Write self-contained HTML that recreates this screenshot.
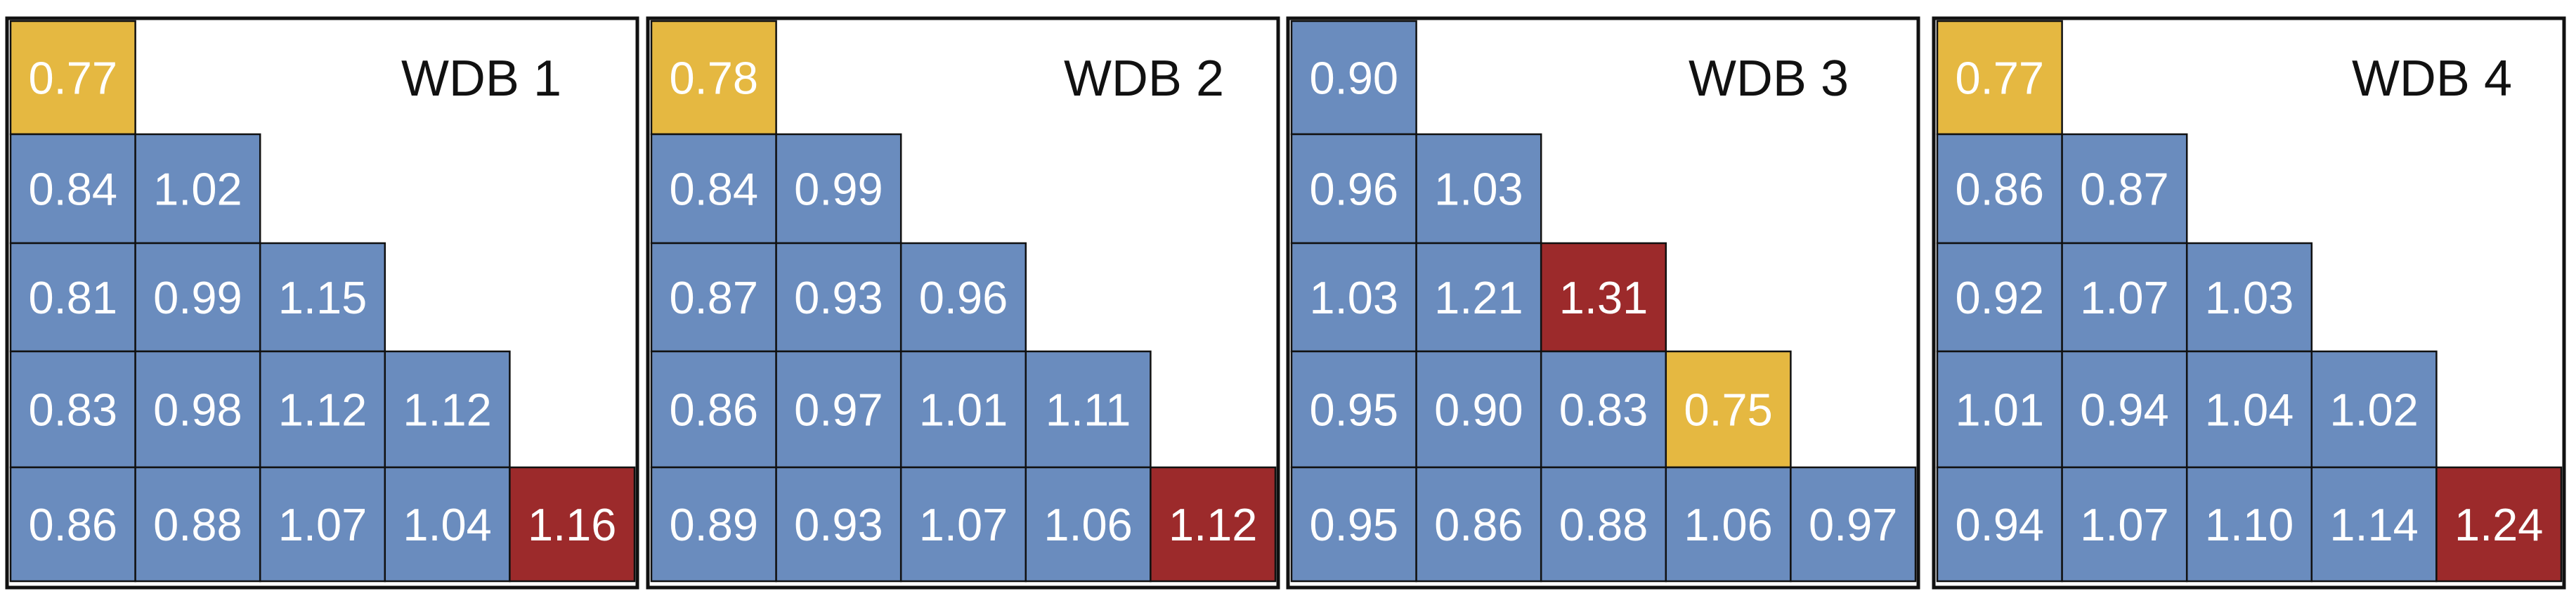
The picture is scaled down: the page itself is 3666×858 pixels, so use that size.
<!DOCTYPE html>
<html><head><meta charset="utf-8"><style>
html,body{margin:0;padding:0;background:#fff;}
svg{display:block;}
text{font-family:"Liberation Sans",sans-serif;}
</style></head><body>
<svg id="chart" width="3666" height="858" viewBox="0 0 3666 858" xmlns="http://www.w3.org/2000/svg"></svg>
<script>
const panelTitles = ["WDB 1", "WDB 2", "WDB 3", "WDB 4"];
const wdb1 = [[0.77],[0.84,1.02],[0.81,0.99,1.15],[0.83,0.98,1.12,1.12],[0.86,0.88,1.07,1.04,1.16]];
const wdb2 = [[0.78],[0.84,0.99],[0.87,0.93,0.96],[0.86,0.97,1.01,1.11],[0.89,0.93,1.07,1.06,1.12]];
const wdb3 = [[0.90],[0.96,1.03],[1.03,1.21,1.31],[0.95,0.90,0.83,0.75],[0.95,0.86,0.88,1.06,0.97]];
const wdb4 = [[0.77],[0.86,0.87],[0.92,1.07,1.03],[1.01,0.94,1.04,1.02],[0.94,1.07,1.10,1.14,1.24]];
const panels = [wdb1, wdb2, wdb3, wdb4];

const NS = "http://www.w3.org/2000/svg";
const svg = document.getElementById("chart");
const panelX = [10, 922, 1833, 2752];
const titleRight = [789, 820, 798, 823];
const rowEdges = [30, 191, 346, 500, 665, 827];
const cellW = 177.6;
function colX(p, c){ return panelX[p] + 5 + c * cellW; }
function rowY(r){ return rowEdges[r]; }
function mk(tag, attrs){ const e = document.createElementNS(NS, tag); for (const k in attrs) e.setAttribute(k, attrs[k]); return e; }

panels.forEach((data, p) => {
  const g = mk("g", {});
  
  
  svg.appendChild(g);
  const frame = mk("rect", {x: panelX[p], y: 26, width: 897, height: 810, fill: "#fff", stroke: "#111", "stroke-width": 5});
  
  
  g.appendChild(frame);
  const all = data.flat();
  const mn = Math.min(...all), mx = Math.max(...all);
  data.forEach((row, r) => {
    row.forEach((v, c) => {
      const x = colX(p, c), y = rowY(r), w = cellW, h = rowY(r + 1) - rowY(r);
      const fill = v === mn ? "#e5b841" : (v === mx ? "#9c2a2b" : "#6a8cbe");
      const rect = mk("rect", {x: x, y: y, width: w, height: h, fill: fill, stroke: "#111", "stroke-width": 2.5});
      
      
      g.appendChild(rect);
      const t = mk("text", {x: x + w / 2, y: y + h / 2 + 23, "text-anchor": "middle", "font-size": 65, fill: "#fff"});
      t.textContent = v.toFixed(2);
      
      
      g.appendChild(t);
    });
  });
  const title = mk("text", {x: panelX[p] + titleRight[p], y: 136, "text-anchor": "end", "font-size": 72, fill: "#111"});
  title.textContent = panelTitles[p];
  
  
  g.appendChild(title);
});
</script>
</body></html>
